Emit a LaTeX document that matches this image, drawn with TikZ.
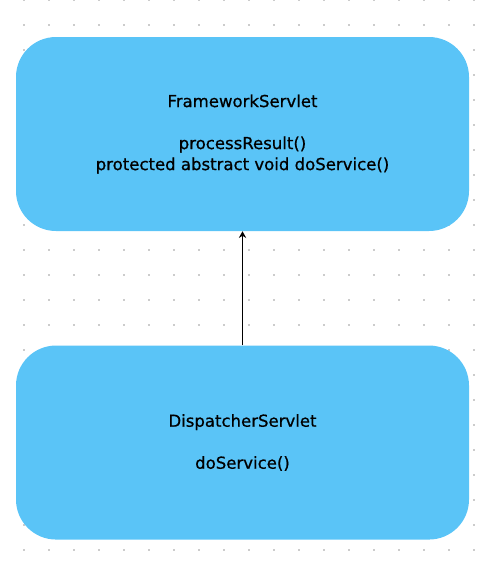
\documentclass[tikz,border=0pt]{standalone}
\usepackage{fontspec}
\setmainfont{DejaVu Sans}
\newfontfamily\classfont{DejaVu Sans}[FakeBold=0.7]
\usetikzlibrary{positioning,arrows.meta}

\definecolor{boxblue}{RGB}{90,196,247}
\definecolor{dotgray}{RGB}{204,204,204}

\tikzset{
	classbox/.style={rectangle, fill=boxblue, rounded corners=30pt, minimum width=339.75pt, minimum height=145.5pt, align=center, font=\classfont\fontsize{12.4pt}{15.75pt}\selectfont},
}

\begin{document}
\begin{tikzpicture}[x=0.75pt, y=-0.75pt, node distance=85.5pt]
			\useasboundingbox (0,0) rectangle (484,565);
			% dotted grid
			\foreach \i in {0,...,18}
				\foreach \j in {0,...,22}
					\fill[dotgray] (24+25*\i-1, 25*\j-1) rectangle ++(2,2);

			\node[classbox] (frame) at (242.5,134) {FrameworkServlet\\\mbox{}\\processResult()\\protected abstract void doService()};
			\node[classbox] (dispatch)[below = of frame] {DispatcherServlet\\\mbox{}\\doService()};

			\path[draw, line width=1pt, -{Stealth[length=5pt, width=5.5pt]}]
				(dispatch) edge (frame)
			;
		\end{tikzpicture}
\end{document}
